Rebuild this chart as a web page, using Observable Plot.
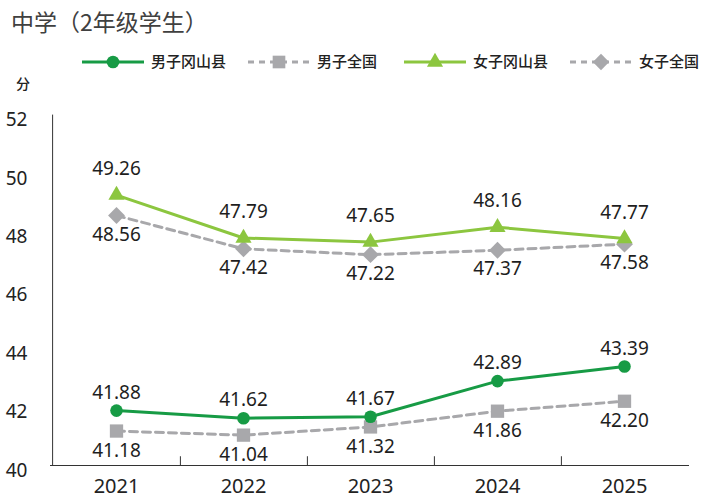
<!DOCTYPE html>
<html><head><meta charset="utf-8">
<script src="https://cdn.jsdelivr.net/npm/d3@7"></script>
<script src="https://cdn.jsdelivr.net/npm/@observablehq/plot@0.6"></script>
<style>
body{margin:0;background:#fff;font-family:'Noto Sans','Noto Sans CJK SC',sans-serif;}
#wrap{position:relative;width:702px;height:499px;}
#head{position:relative;width:702px;height:100px;}
#title{position:absolute;left:11px;top:4px;font-size:23px;color:#404040;font-family:'Noto Sans CJK SC',sans-serif;font-weight:400;}
#unit{position:absolute;left:16px;top:73px;font-size:14px;color:#222;font-weight:500;font-family:'Noto Sans CJK SC',sans-serif;}
</style></head>
<body><div id="wrap"><div id="head"><div id="title">中学（2年级学生）</div><svg id="legend" width="702" height="100" style="position:absolute;left:0;top:0"></svg><div id="unit">分</div></div><div id="chart"></div></div>
<script>
const years = ["2021", "2022", "2023", "2024", "2025"];
const boysOkayama = [41.88, 41.62, 41.67, 42.89, 43.39];
const boysNational = [41.18, 41.04, 41.32, 41.86, 42.20];
const girlsOkayama = [49.26, 47.79, 47.65, 48.16, 47.77];
const girlsNational = [48.56, 47.42, 47.22, 47.37, 47.58];
const yTicks = [40, 42, 44, 46, 48, 50, 52];
const seriesNames = ["男子冈山县", "男子全国", "女子冈山县", "女子全国"];

const darkGreen = "#179b45", lightGreen = "#8cc63f", gray = "#a8a8ab";
const series = [
  {name: seriesNames[1], values: boysNational, color: gray, dash: "8,5", symbol: "square", r: 7.5, dy: 20},
  {name: seriesNames[3], values: girlsNational, color: gray, dash: "8,5", symbol: "diamond2", r: 7.6, dy: 19},
  {name: seriesNames[0], values: boysOkayama, color: darkGreen, dash: null, symbol: "circle", r: 6.3, dy: -18},
  {name: seriesNames[2], values: girlsOkayama, color: lightGreen, dash: null, symbol: "triangle", r: 6, dy: -26}
];

const W = 702, H = 399, mL = 50, mR = 13, mT = 14.6, mB = 34;
const step = (W - mL - mR) / years.length;
const font = "'Noto Sans','Noto Sans CJK SC',sans-serif";
const cjk = "'Noto Sans CJK SC',sans-serif";

const marks = [
  Plot.ruleY([yTicks[0]], {stroke: "#333", strokeWidth: 1}),
  Plot.ruleX([years[0]], {dx: -step / 2, stroke: "#333", strokeWidth: 1}),
  Plot.ruleX(years.slice(0, -1), {dx: step / 2, y1: yTicks[0], y2: yTicks[0] + 0.3, stroke: "#333", strokeWidth: 1}),
  Plot.axisY({ticks: yTicks, tickSize: 0, tickPadding: 23, fontSize: 19, dy: 5, label: null, fill: "#222"}),
  Plot.axisX({tickSize: 0, tickPadding: 13, fontSize: 20, label: null, fill: "#222"})
];
for (const s of series) {
  const data = years.map((y, i) => ({year: y, value: s.values[i]}));
  marks.push(Plot.line(data, {x: "year", y: "value", stroke: s.color, strokeWidth: 3, strokeDasharray: s.dash}));
}
for (const s of series) {
  const data = years.map((y, i) => ({year: y, value: s.values[i]}));
  marks.push(Plot.dot(data, {x: "year", y: "value", symbol: s.symbol, r: s.r, fill: s.color, stroke: "none"}));
  marks.push(Plot.text(data, {x: "year", y: "value", text: d => d.value.toFixed(2), dy: s.dy, fontSize: 19, fill: "#1e1e1e"}));
}

const chart = Plot.plot({
  width: W, height: H,
  marginLeft: mL, marginRight: mR, marginTop: mT, marginBottom: mB,
  x: {type: "point", domain: years, padding: 0.5, axis: null},
  y: {domain: [yTicks[0], yTicks[yTicks.length - 1]], axis: null},
  style: {fontFamily: font, color: "#222", background: "#fff"},
  marks
});
document.getElementById("chart").appendChild(chart);

// legend
const leg = d3.select("#legend");
const legItems = [
  {name: seriesNames[0], color: darkGreen, dash: null, sym: d3.symbolCircle, size: Math.PI * 6.3 * 6.3, x: 82},
  {name: seriesNames[1], color: gray, dash: "6,5", sym: d3.symbolSquare, size: 160, x: 248},
  {name: seriesNames[2], color: lightGreen, dash: null, sym: d3.symbolTriangle, size: 113, x: 404},
  {name: seriesNames[3], color: gray, dash: "6,5", sym: d3.symbolDiamond2, size: 170, x: 570}
];
const ly = 62;
for (const it of legItems) {
  leg.append("line").attr("x1", it.x).attr("x2", it.x + 62).attr("y1", ly).attr("y2", ly)
    .attr("stroke", it.color).attr("stroke-width", 3).attr("stroke-dasharray", it.dash);
  leg.append("path").attr("d", d3.symbol(it.sym, it.size)()).attr("transform", `translate(${it.x + 31},${ly})`)
    .attr("fill", it.color);
  leg.append("text").attr("x", it.x + 69).attr("y", ly).attr("dy", "0.35em")
    .attr("font-size", 15).attr("font-family", cjk).attr("fill", "#222").attr("font-weight", 500).text(it.name);
}
</script></body></html>
